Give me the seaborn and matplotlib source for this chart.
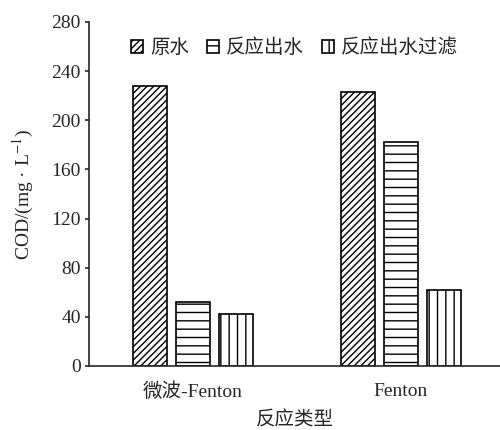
import pandas as pd
import matplotlib
matplotlib.use('Agg')
import matplotlib.pyplot as plt
import seaborn as sns

categories = ['微波-Fenton', 'Fenton']
series = ['原水', '反应出水', '反应出水过滤']
raw_water = [228, 223]
effluent = [52, 182]
filtered = [42, 62]
hatches = ['/////', '--', '||']

df = pd.DataFrame({
    'type': categories * 3,
    'series': [s for s in series for _ in categories],
    'cod': raw_water + effluent + filtered,
})

sns.set_style('ticks')
plt.rcParams['font.family'] = ['Liberation Serif', 'Noto Sans CJK SC']
plt.rcParams['hatch.linewidth'] = 1.0
plt.rcParams['mathtext.fontset'] = 'stix'

fig = plt.figure(figsize=(5, 4.3), dpi=100)
ax = fig.add_axes([0.178, 0.149, 0.822, 0.80])

sns.barplot(data=df, x='type', y='cod', hue='series', order=categories,
            hue_order=series, palette=['white'] * 3, edgecolor='black',
            linewidth=1.2, width=0.62, gap=0.2, ax=ax)

for cont, h in zip(ax.containers, hatches):
    for p in cont:
        p.set_hatch(h)

ax.legend(ax.containers, series, loc='center', bbox_to_anchor=(0.5, 0.924),
          ncol=3, frameon=False, fontsize=14, handlelength=0.65,
          handleheight=0.65, handletextpad=0.35, columnspacing=0.9)

ax.set_ylim(0, 280)
ax.set_xlim(-0.5, 1.476)
ax.set_yticks(range(0, 281, 40))
ax.tick_params(axis='y', labelsize=14, length=3, width=1.2, direction='out', pad=3)
ax.tick_params(axis='x', labelsize=14, length=0, pad=12)
ax.set_xlabel('反应类型', fontsize=14, labelpad=7)
ax.set_ylabel('COD/(mg · L$^{-1}$)', fontsize=14, labelpad=11)

sns.despine(ax=ax, top=True, right=True)
for s in ['left', 'bottom']:
    ax.spines[s].set_linewidth(1.2)

fig.savefig('out.png', dpi=100)
